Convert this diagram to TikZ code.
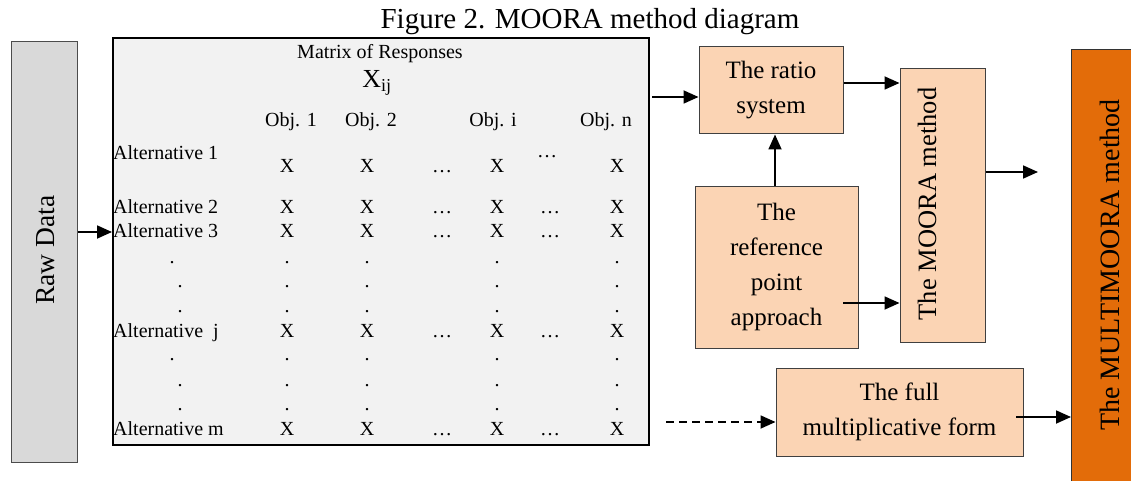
\documentclass[tikz,border=0pt]{standalone}
\usepackage{fontspec}
\setmainfont{Liberation Serif}
\usetikzlibrary{arrows.meta}
\definecolor{peach}{HTML}{FBD4B4}
\definecolor{rawgray}{HTML}{D9D9D9}
\definecolor{matgray}{HTML}{F2F2F2}
\definecolor{orangeM}{HTML}{E36C09}
\begin{document}
\begin{tikzpicture}[x=1pt,y=-1pt,
  txt/.style={inner sep=0pt, anchor=base, font=\fontsize{20}{24}\selectfont},
  big/.style={font=\fontsize{26.5}{35}\selectfont},
  arr/.style={line width=1.8pt, -{Triangle[length=15pt,width=13pt]}},
  peachbox/.style={draw=black!75, line width=1pt, fill=peach, inner sep=2pt, align=center, font=\fontsize{25}{35}\selectfont},
]
\useasboundingbox (0,0) rectangle (1131,481);
\clip (0,0) rectangle (1131,481);

% title
\node[anchor=base, inner sep=0pt, font=\fontsize{29}{34}\selectfont] (title) at (590,29) {Figure 2. MOORA method diagram};

% raw data
\node[draw=black!70, line width=1pt, fill=rawgray, minimum width=66pt, minimum height=421pt, anchor=north west, inner sep=0pt] (raw) at (11,41) {};
\node[rotate=90, inner sep=0pt, font=\fontsize{27.5}{32}\selectfont] (rawlabel) at (46,250) {Raw Data};

% matrix
\node[draw=black, line width=2.4pt, fill=matgray, minimum width=536pt, minimum height=407pt, anchor=north west, inner sep=0pt] (mat) at (112,37) {};
\node[txt] (mtitle) at (380,59) {Matrix of Responses};
\node[txt, font=\fontsize{26}{30}\selectfont] (xij) at (377,88) {X\textsubscript{ij}};
\node[txt] (obj1) at (291,127) {Obj. 1};
\node[txt] (obj2) at (371,127) {Obj. 2};
\node[txt] (obji) at (493,127) {Obj. i};
\node[txt] (objn) at (606,127) {Obj. n};

% alternatives
\node[txt, anchor=base west] (alt1) at (113,160) {Alternative 1};
\node[txt, anchor=base west] (alt2) at (113,213) {Alternative 2};
\node[txt, anchor=base west] (alt3) at (113,237) {Alternative 3};
\node[txt, anchor=base west] (altj) at (113,337) {Alternative\ \ j};
\node[txt, anchor=base west] (altm) at (113,435) {Alternative m};

% X entries
\foreach \r/\y in {1/172,2/213,3/237,j/337,m/435}{
  \foreach \c/\x in {1/287,2/367,i/497,n/617}{
    \node[txt] (x\r\c) at (\x,\y) {X};
  }
  \node[txt] (ea\r) at (442,\y) {…};
}
\node[txt] (eb1) at (547,158) {…};
\foreach \r/\y in {2/213,3/237,j/337,m/435}{
  \node[txt] (eb\r) at (550,\y) {…};
}

% vertical dots
\foreach \k/\y/\ax in {1/263/172,2/287/180,3/312/180,4/360/172,5/386/180,6/410/180}{
  \node[txt] (da\k) at (\ax,\y) {.};
  \foreach \c/\x in {1/287,2/367,i/497,n/617}{
    \node[txt] (d\k\c) at (\x,\y) {.};
  }
}

% right side boxes
\node[peachbox, minimum width=144pt, minimum height=87pt] (ratio) at (771,90.5) {The ratio\\system};
\node[peachbox, minimum width=163pt, minimum height=162pt] (ref) at (776.5,267) {The\\reference\\point\\approach};
\node[peachbox, minimum width=85pt, minimum height=273pt] (moora) at (942.5,205.5) {};
\node[rotate=90, inner sep=0pt, big] (mooralabel) at (927,204) {The MOORA method};
\node[peachbox, minimum width=247pt, minimum height=88pt] (full) at (899.5,412) {The full\\multiplicative form};
\node[draw=black!80, line width=1pt, fill=orangeM, minimum width=74pt, minimum height=446pt, anchor=north west, inner sep=0pt] (multi) at (1071,49) {};
\node[rotate=90, inner sep=0pt, font=\fontsize{28}{35}\selectfont] (multilabel) at (1110,265) {The MULTIMOORA method};

% connectors
\coordinate (c1) at (77,232);
\draw[arr] (raw.east |- c1) -- (mat.west |- c1);
\coordinate (m1) at (652,97);
\draw[arr] (m1) -- (ratio.west |- m1);
\coordinate (r1) at (845,83);
\draw[arr] (ratio.east |- r1) -- (moora.west |- r1);
\coordinate (e1) at (1038,172);
\draw[arr] (moora.east |- e1) -- (e1);
\coordinate (v1) at (775,0);
\draw[arr] (ref.north -| v1) -- (ratio.south -| v1);
\coordinate (p1) at (843,303);
\draw[arr] (p1) -- (moora.west |- p1);
\coordinate (d1) at (666,422);
\draw[arr, dash pattern=on 8pt off 5pt] (d1) -- (full.west |- d1);
\coordinate (f1) at (1016,417);
\draw[arr] (f1) -- (multi.west |- f1);
\end{tikzpicture}
\end{document}
